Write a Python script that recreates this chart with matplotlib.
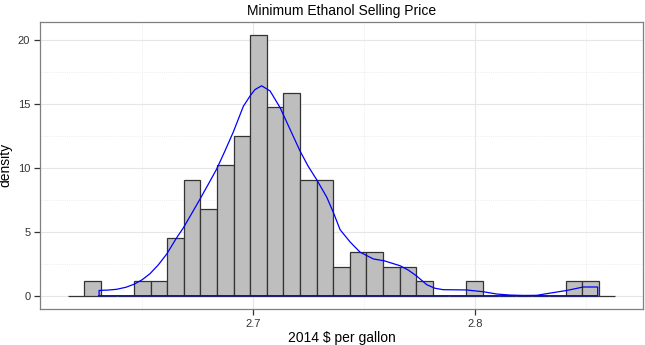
import numpy as np
import matplotlib
matplotlib.use("Agg")
import matplotlib.pyplot as plt
from matplotlib.ticker import MultipleLocator

plt.rcParams['font.family'] = ['Liberation Sans', 'DejaVu Sans']

# ---- data ----
title = "Minimum Ethanol Selling Price"
xlabel = "2014 $ per gallon"
ylabel = "density"

bin_start = 2.61678
bin_width = 0.007467
bar_density = [0.0, 1.13, 0.0, 0.0, 1.13, 1.13, 4.53, 9.06, 6.80, 10.20,
               12.46, 20.39, 14.73, 15.86, 9.06, 9.06, 2.27, 3.40, 3.40, 2.27,
               2.27, 1.13, 0.0, 0.0, 1.13, 0.0, 0.0, 0.0, 0.0, 0.0,
               1.13, 1.13, 0.0]

kde_x = [2.6309, 2.6350, 2.6388, 2.6430, 2.6467, 2.6503, 2.6538, 2.6575, 2.6613,
         2.6657, 2.6688, 2.6725, 2.6763, 2.6800, 2.6838, 2.6875, 2.6913, 2.6958,
         2.6988, 2.7010, 2.7040, 2.7078, 2.7123, 2.7168, 2.7213, 2.7250, 2.7288,
         2.7333, 2.7363, 2.7393, 2.7438, 2.7483, 2.7543, 2.7591, 2.7663, 2.7700,
         2.7736, 2.7783, 2.7820, 2.7857, 2.7961, 2.8037, 2.8098, 2.8157, 2.8220,
         2.8278, 2.8337, 2.8413, 2.8487, 2.8552]
kde_y = [0.41, 0.44, 0.50, 0.66, 0.90, 1.25, 1.72, 2.40, 3.25,
         4.5, 5.3, 6.4, 7.55, 8.7, 9.9, 11.3, 12.8, 14.8,
         15.6, 16.1, 16.4, 16.0, 14.7, 13.0, 11.3, 10.1, 9.06,
         7.7, 6.5, 5.16, 4.2, 3.4, 2.87, 2.73, 2.34, 2.0,
         1.56, 0.86, 0.58, 0.47, 0.45, 0.31, 0.13, 0.05, 0.02,
         0.03, 0.2, 0.41, 0.68, 0.68]

x_ticks = [2.7, 2.8]
x_tick_labels = ["2.7", "2.8"]
y_ticks = [0, 5, 10, 15, 20]

# ---- figure ----
fig = plt.figure(figsize=(6.45, 3.45), dpi=100)
ax = fig.add_axes([40/645, 36/345, 603.3/645, 287.3/345])

lefts = bin_start + bin_width * np.arange(len(bar_density))
ax.bar(lefts, bar_density, width=bin_width, align='edge',
       color='#BEBEBE', edgecolor='#333333', linewidth=0.9, zorder=2)

px = [kde_x[0]] + kde_x + [kde_x[-1], kde_x[0]]
py = [0] + kde_y + [0, 0]
ax.plot(px, py, color='#0000FF', linewidth=0.9, zorder=3)

ax.set_xlim(2.60432, 2.87571)
ax.set_ylim(-1.039, 21.406)

ax.set_xticks(x_ticks)
ax.set_xticklabels(x_tick_labels)
ax.set_yticks(y_ticks)
ax.xaxis.set_minor_locator(MultipleLocator(0.05))
ax.yaxis.set_minor_locator(MultipleLocator(2.5))

ax.grid(which='major', color='#E6E6E6', linewidth=0.8, linestyle='-', zorder=0)
ax.grid(which='minor', color='#E6E6E6', linewidth=0.6, linestyle=':', zorder=0)
ax.set_axisbelow(True)

ax.tick_params(which='major', length=4, width=0.9, color='#333333',
               labelsize=8, labelcolor='#333333', pad=3)
ax.tick_params(which='minor', length=0)

for s in ax.spines.values():
    s.set_color('#7F7F7F')
    s.set_linewidth(0.9)

ax.set_title(title, fontsize=10, pad=5)
ax.set_xlabel(xlabel, fontsize=10)
ax.set_ylabel(ylabel, fontsize=10)
ax.xaxis.set_label_coords(0.5, -0.075)
ax.yaxis.set_label_coords(-0.045, 0.5)

fig.savefig("out.png", dpi=100)
